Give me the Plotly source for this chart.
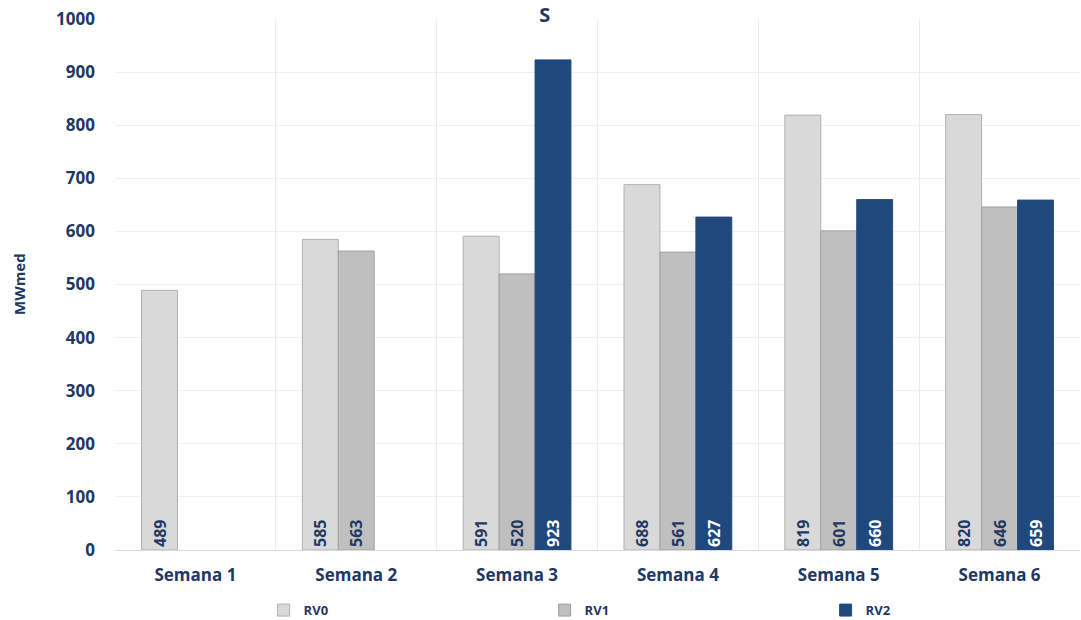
import plotly.graph_objects as go

semanas = ["Semana 1", "Semana 2", "Semana 3", "Semana 4", "Semana 5", "Semana 6"]
rv0 = [489, 585, 591, 688, 819, 820]
rv1 = [None, 563, 520, 561, 601, 646]
rv2 = [None, None, 923, 627, 660, 659]

navy = "#1f3864"

fig = go.Figure()

# one trace per revision
for name, vals, fill, edge, txt in [
    ("RV0", rv0, "#d9d9d9", "#b0b0b0", navy),
    ("RV1", rv1, "#bfbfbf", "#a0a0a0", navy),
    ("RV2", rv2, "#1f497d", "#2a4f80", "white"),
]:
    fig.add_trace(go.Bar(
        x=semanas, y=vals, name=name,
        marker=dict(color=fill, line=dict(color=edge, width=1)),
        text=[str(v) if v is not None else "" for v in vals],
        textposition="inside", insidetextanchor="start", textangle=-90,
        textfont=dict(color=txt, size=16, family="Open Sans", weight="bold"),
        cliponaxis=False,
    ))

fig.update_layout(
    width=1081, height=620,
    barmode="group", bargap=0.33, bargroupgap=0,
    plot_bgcolor="white", paper_bgcolor="white",
    margin=dict(l=115, r=1, t=19, b=70, autoexpand=False),
    font=dict(family="Open Sans", color=navy),
    title=dict(text="<b>S</b>", x=0.504, xanchor="center", y=0.976, yanchor="middle",
               font=dict(size=20, color=navy)),
    uniformtext=dict(minsize=8, mode="show"),
    legend=dict(orientation="h", x=0.154, xanchor="left", y=-0.085, yanchor="top",
                entrywidth=236, font=dict(size=13, color=navy, weight="bold"),
                traceorder="normal"),
    annotations=[dict(text="<b>MWmed</b>", xref="paper", yref="paper",
                      x=-0.1, xanchor="center", y=0.5, textangle=-90, showarrow=False,
                      font=dict(size=15, color=navy))],
)

fig.update_xaxes(
    type="category", tickson="boundaries", showgrid=True, gridcolor="#ececec",
    ticks="", showline=True, linecolor="#d9d9d9", automargin=False,
    ticklabelstandoff=10,
    tickfont=dict(size=17, color=navy, weight="bold"),
)
fig.update_yaxes(
    range=[0, 1000], dtick=100, showgrid=True, gridcolor="#f0f0f0",
    zeroline=False, ticks="", ticklabelstandoff=19, automargin=False,
    tickfont=dict(size=17, color=navy, weight="bold"),
)

# drop the default 8px page margin so the figure sits at the window corner
fig.write_html("out.html", config={"displayModeBar": False},
               post_script="document.body.style.margin='0';")
